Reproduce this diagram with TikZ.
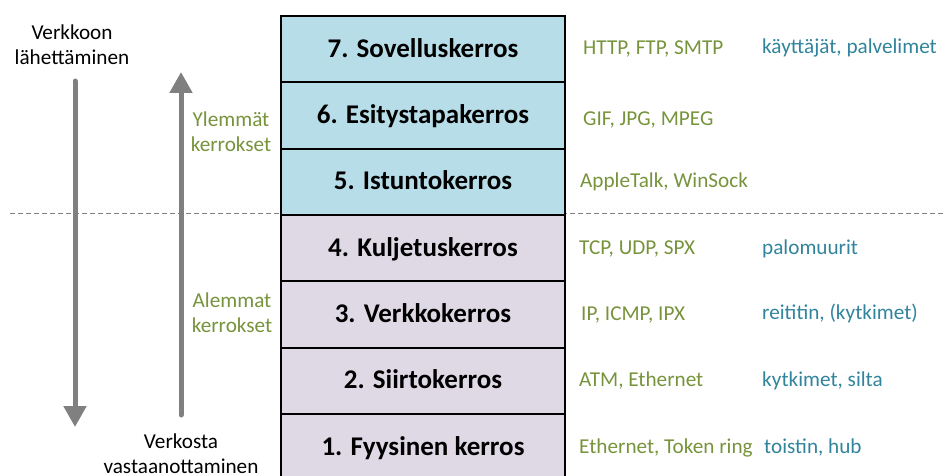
\documentclass[tikz,border=0pt]{standalone}
\usepackage{fontspec}
\setmainfont{Carlito}
\usetikzlibrary{arrows.meta}

\definecolor{upperfill}{HTML}{B7DDE8}
\definecolor{lowerfill}{HTML}{DFD9E6}
\definecolor{protogreen}{HTML}{77933C}
\definecolor{devblue}{HTML}{31849B}
\definecolor{arrowgray}{HTML}{808080}

\tikzset{
  layer/.style={draw=black, line width=2pt, minimum width=284pt, minimum height=66.3pt,
    inner sep=0pt, font=\fontsize{27}{31}\selectfont\bfseries,
    text height=20pt, text depth=4pt},
  upper/.style={layer, fill=upperfill},
  lower/.style={layer, fill=lowerfill},
  proto/.style={anchor=base west, inner sep=0pt, text=protogreen, font=\fontsize{21.2}{25}\selectfont},
  device/.style={anchor=base west, inner sep=0pt, text=devblue, font=\fontsize{21.2}{25}\selectfont},
  sidelabel/.style={anchor=base, inner sep=0pt, align=center, font=\fontsize{21.2}{25}\selectfont},
  grouplabel/.style={sidelabel, text=protogreen},
  flow/.style={draw=arrowgray, line width=5pt, line cap=round,
    -{Triangle[width=22pt,length=21pt]}}
}

\begin{document}
\begin{tikzpicture}[x=1pt, y=-1pt]
  \useasboundingbox (0,0) rectangle (944,476);

  % boundary between upper and lower layers
  \coordinate (sepL) at (10,213);
  \coordinate (sepR) at (944,213);
  \draw[arrowgray, line width=1pt, dash pattern=on 5pt off 3pt] (sepL) -- (sepR);

  % the seven OSI layers
  \node[upper] (l7) at (423,49.2)  {7. Sovelluskerros};
  \node[upper] (l6) at (423,115.5) {6. Esitystapakerros};
  \node[upper] (l5) at (423,181.8) {5. Istuntokerros};
  \node[lower] (l4) at (423,248.1) {4. Kuljetuskerros};
  \node[lower] (l3) at (423,314.4) {3. Verkkokerros};
  \node[lower] (l2) at (423,380.7) {2. Siirtokerros};
  \node[lower] (l1) at (423,447)   {1. Fyysinen kerros};

  % protocols
  \node[proto] (p7) at (583,55)  {HTTP, FTP, SMTP};
  \node[proto] (p6) at (583,125) {GIF, JPG, MPEG};
  \node[proto] (p5) at (580,187) {AppleTalk, WinSock};
  \node[proto] (p4) at (579,254) {TCP, UDP, SPX};
  \node[proto] (p3) at (581,320) {IP, ICMP, IPX};
  \node[proto] (p2) at (579,386) {ATM, Ethernet};
  \node[proto] (p1) at (579,453) {Ethernet, Token ring};

  % devices
  \node[device] (d7) at (762,54)  {käyttäjät, palvelimet};
  \node[device] (d4) at (762,254) {palomuurit};
  \node[device] (d3) at (762,319) {reititin, (kytkimet)};
  \node[device] (d2) at (762,386) {kytkimet, silta};
  \node[device] (d1) at (764,453) {toistin, hub};

  % direction labels (anchored on the baseline of the second line)
  \node[sidelabel] (send) at (72,65) {Verkkoon\\lähettäminen};
  \node[sidelabel] (recv) at (181,473) {Verkosta\\vastaanottaminen};
  \node[grouplabel] (upperlbl) at (231,151) {Ylemmät\\kerrokset};
  \node[grouplabel] (lowerlbl) at (232,332) {Alemmat\\kerrokset};

  % direction arrows
  \coordinate (sendTop) at (75,81);
  \coordinate (sendBot) at (75,427);
  \coordinate (recvBot) at (181,415);
  \coordinate (recvTop) at (181,72);
  \draw[flow] (sendTop) -- (sendBot);
  \draw[flow] (recvBot) -- (recvTop);
\end{tikzpicture}
\end{document}
